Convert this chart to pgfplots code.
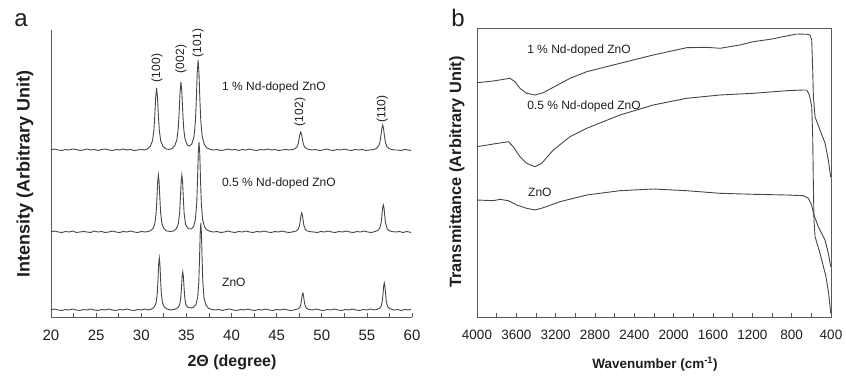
\documentclass[border=0pt]{standalone}
\usepackage{pgfplots}
\pgfplotsset{compat=1.18}
\usepackage{fontspec}
\setmainfont{Liberation Sans}
\definecolor{curve}{RGB}{70,70,70}
\definecolor{frame}{RGB}{90,90,90}
\definecolor{txt}{RGB}{30,30,30}
\newcommand{\fs}[1]{\fontsize{#1bp}{#1bp}\selectfont}

\begin{document}
\begin{tikzpicture}
\path[use as bounding box] (0bp,0bp) rectangle (846bp,378bp);

% ---------------- (a) XRD patterns ----------------
\begin{axis}[
  at={(51bp,61bp)}, anchor=south west, scale only axis,
  width=361bp, height=287bp,
  xmin=20, xmax=60, ymin=0, ymax=287,
  axis x line=bottom, axis y line=left,
  axis line style={-, draw=frame, line width=0.8bp},
  every outer x axis line/.append style={-},
  every outer y axis line/.append style={-},
  xtick={20,25,...,60}, minor xtick={22.5,27.5,...,57.5},
  ytick=\empty,
  tick align=inside, major tick length=3.5bp, minor tick length=3.5bp,
  tick style={draw=frame, line width=0.7bp},
  xticklabel style={font=\fs{15}, text=txt, yshift=-10bp},
  /pgf/number format/assume math mode=true,
  clip=false,
]
% 1 % Nd-doped ZnO
\addplot[curve, line width=0.9bp] coordinates {
(20.0,167) (20.4,168) (20.8,167) (21.2,166.5) (21.6,167.5) (22.0,167) (22.4,168) (22.8,167.5)
(23.2,166.5) (23.6,167) (24.0,168) (24.4,167) (24.8,167.5) (25.2,166.5) (25.6,167.5) (26.0,168)
(26.4,167) (26.8,166.5) (27.2,167.5) (27.6,167) (28.0,168) (28.4,167) (28.8,167.5) (29.2,166.5)
(29.6,167) (30.0,167.5) (30.35,167)
(30.7,168.2) (31.0,170.7) (31.25,176.3) (31.4,186.8) (31.5,201.1) (31.6,219.7) (31.7,229)
(31.8,219.7) (31.9,201.1) (32.0,186.8) (32.15,176.3) (32.4,170.7) (32.7,168.2) (33.05,167.5)
(33.4,168.4) (33.7,171.1) (33.95,177.2) (34.1,188.8) (34.2,204.4) (34.3,224.8) (34.4,235)
(34.5,224.8) (34.6,204.4) (34.7,188.8) (34.85,177.8) (35.1,172) (35.35,171) (35.6,173)
(35.85,180.5) (36.0,195.8) (36.1,216.5) (36.2,243.5) (36.3,257) (36.4,243.5) (36.5,216.5)
(36.6,195.8) (36.75,180.5) (37.0,172.4) (37.3,168.8) (37.7,167.5)
(38.0,167) (38.4,167.5) (38.8,166.5) (39.2,167) (39.6,168) (40.0,167) (40.4,167.5) (40.8,166.5)
(41.2,167.5) (41.6,167) (42.0,168) (42.4,167) (42.8,166.5) (43.2,167.5) (43.6,167) (44.0,168)
(44.4,167) (44.8,167.5) (45.2,166.5) (45.6,167) (46.0,167.5) (46.4,167)
(46.7,167.4) (47.0,168.1) (47.22,169.7) (47.37,172.8) (47.47,176.9) (47.57,182.3) (47.67,185)
(47.77,182.3) (47.87,176.9) (47.97,172.8) (48.12,169.7) (48.37,168.1) (48.67,167.4) (48.95,167)
(49.3,167.5) (49.7,166.5) (50.1,167) (50.5,168) (50.9,167) (51.3,166.5) (51.7,167.5) (52.1,167)
(52.5,168) (52.9,167) (53.3,166.5) (53.7,167.5) (54.1,167) (54.5,167.5) (54.9,166.5) (55.3,167)
(55.75,167.5) (56.05,168.5) (56.3,170.8) (56.45,175) (56.55,180.8) (56.65,188.3) (56.75,192)
(56.85,188.3) (56.95,180.8) (57.05,175) (57.2,170.8) (57.45,168.5) (57.75,167.5)
(58.1,167) (58.4,167) (58.8,166.5) (59.2,167.5) (59.6,167) (59.9,166.5)
};
% 0.5 % Nd-doped ZnO
\addplot[curve, line width=0.9bp] coordinates {
(20.0,85) (20.4,86) (20.8,85) (21.2,84.5) (21.6,85.5) (22.0,85) (22.4,86) (22.8,84.5)
(23.2,85) (23.6,85.5) (24.0,85) (24.4,84.5) (24.8,86) (25.2,85) (25.6,85.5) (26.0,84.5)
(26.4,85) (26.8,86) (27.2,85) (27.6,84.5) (28.0,85.5) (28.4,85) (28.8,86) (29.2,85)
(29.6,84.5) (30.0,85.5) (30.5,85)
(31.0,86.1) (31.3,88.4) (31.5,93) (31.65,103.8) (31.74,119.2) (31.82,135.2) (31.9,142)
(31.98,135.2) (32.06,119.2) (32.15,103.8) (32.3,93) (32.5,88.4) (32.8,86.1) (33.2,85.5)
(33.6,86.1) (33.9,88.4) (34.1,93) (34.25,103.8) (34.34,119.2) (34.42,135.2) (34.5,142)
(34.58,135.2) (34.66,119.2) (34.75,103.8) (34.9,93) (35.1,89.5) (35.35,88) (35.55,88)
(35.8,90.4) (36.0,97.6) (36.15,114.7) (36.24,139) (36.32,164.2) (36.4,175) (36.48,164.2)
(36.56,139) (36.65,114.7) (36.8,97.6) (37.0,90.4) (37.3,86.8) (37.7,85.5)
(38.0,85) (38.4,85.5) (38.8,84.5) (39.2,85) (39.6,86) (40.0,85) (40.4,84.5) (40.8,85.5)
(41.2,85) (41.6,86) (42.0,85) (42.4,84.5) (42.8,85.5) (43.2,85) (43.6,86) (44.0,85)
(44.4,84.5) (44.8,85.5) (45.2,85) (45.6,86) (46.0,85) (46.4,84.5)
(46.9,85.4) (47.18,86.1) (47.38,87.7) (47.53,91.3) (47.62,96.4) (47.7,101.7) (47.78,104)
(47.86,101.7) (47.94,96.4) (48.03,91.3) (48.18,87.7) (48.38,86.1) (48.68,85.4)
(49.1,85) (49.5,84.5) (49.9,85.5) (50.3,85) (50.7,86) (51.1,85) (51.5,84.5) (51.9,85.5)
(52.3,85) (52.7,86) (53.1,85) (53.5,84.5) (53.9,85.5) (54.3,85) (54.7,86) (55.1,85) (55.5,84.5)
(55.9,85.5) (56.22,86.6) (56.42,88.8) (56.57,93.9) (56.66,101.2) (56.74,108.8) (56.82,112)
(56.9,108.8) (56.98,101.2) (57.07,93.9) (57.22,88.8) (57.42,86.6) (57.72,85.5)
(58.2,85) (58.6,85.5) (59.0,84.5) (59.4,85.5) (59.9,84.5)
};
% undoped ZnO
\addplot[curve, line width=0.9bp] coordinates {
(20.0,7) (20.4,8) (20.8,7) (21.2,6.5) (21.6,7.5) (22.0,7) (22.4,8) (22.8,7)
(23.2,6.5) (23.6,7.5) (24.0,7) (24.4,8) (24.8,7) (25.2,6.5) (25.6,7.5) (26.0,7)
(26.4,8) (26.8,7) (27.2,6.5) (27.6,7.5) (28.0,7) (28.4,8) (28.8,7) (29.2,6.5)
(29.6,7.5) (30.0,7) (30.4,8) (30.8,7)
(31.15,8) (31.45,10.1) (31.65,14.3) (31.78,24.2) (31.86,38.2) (31.93,52.8) (32.0,59)
(32.07,52.8) (32.14,38.2) (32.22,24.2) (32.35,14.3) (32.55,10.1) (32.85,8) (33.3,7)
(33.75,7.8) (34.05,9.3) (34.25,12.3) (34.38,19.5) (34.46,29.8) (34.53,40.4) (34.6,45)
(34.67,40.4) (34.74,29.8) (34.82,19.5) (34.95,12.3) (35.15,9.8) (35.45,9) (35.75,9.5)
(36.05,12.2) (36.25,19.2) (36.38,35.7) (36.46,59.2) (36.53,83.6) (36.6,94) (36.67,83.6)
(36.74,59.2) (36.82,35.7) (36.95,19.2) (37.15,12.2) (37.45,8.7) (37.8,7.5)
(38.2,7) (38.6,7.5) (39.0,6.5) (39.4,7.5) (39.8,8) (40.2,7) (40.6,6.5) (41.0,7.5)
(41.4,7) (41.8,8) (42.2,7) (42.6,6.5) (43.0,7.5) (43.4,7) (43.8,8) (44.2,7)
(44.6,6.5) (45.0,7.5) (45.4,7) (45.8,8) (46.2,7) (46.6,6.5)
(47.05,7.3) (47.35,8) (47.55,9.4) (47.68,12.6) (47.76,17.2) (47.83,22) (47.9,24)
(47.97,22) (48.04,17.2) (48.12,12.6) (48.25,9.4) (48.45,8) (48.75,7.3)
(49.0,7) (49.4,8) (49.8,7) (50.2,6.5) (50.6,7.5) (51.0,7) (51.4,8) (51.8,7)
(52.2,6.5) (52.6,7.5) (53.0,7) (53.4,8) (53.8,7) (54.2,6.5) (54.6,7.5) (55.0,7)
(55.4,8) (55.8,7)
(56.08,7.5) (56.38,8.6) (56.58,10.8) (56.71,15.9) (56.79,23.2) (56.86,30.8) (56.93,34)
(57.0,30.8) (57.07,23.2) (57.15,15.9) (57.28,10.8) (57.48,8.6) (57.78,7.5)
(58.0,7) (58.4,7.5) (58.8,6.5) (59.2,7.5) (59.6,7) (59.9,7.5)
};
\begin{scope}[every node/.style={font=\fs{12}, text=txt, inner sep=0pt}]
\node[anchor=west] at (axis cs:38.95,230) {1 \% Nd-doped ZnO};
\node[anchor=west] at (axis cs:38.95,134) {0.5 \% Nd-doped ZnO};
\node[anchor=west] at (axis cs:38.95,35) {ZnO};
\node[rotate=90] at (axis cs:31.75,249) {(100)};
\node[rotate=90] at (axis cs:34.4,258) {(002)};
\node[rotate=90] at (axis cs:36.29,274) {(101)};
\node[rotate=90] at (axis cs:47.6,205) {(102)};
\node[rotate=90] at (axis cs:56.7,208) {(110)};
\end{scope}
\end{axis}

% ---------------- (b) FTIR spectra ----------------
\begin{axis}[
  at={(477bp,61bp)}, anchor=south west, scale only axis,
  width=354bp, height=289bp,
  xmin=400, xmax=4000, x dir=reverse, ymin=0, ymax=289,
  axis line style={draw=frame, line width=0.8bp},
  xtick={400,800,...,4000}, minor xtick={600,1000,...,3800},
  xtick pos=bottom, ytick=\empty,
  tick align=inside, major tick length=3.5bp, minor tick length=3.5bp,
  tick style={draw=frame, line width=0.7bp},
  scaled x ticks=false,
  xticklabel style={font=\fs{13.5}, text=txt, yshift=-10bp,
    /pgf/number format/set thousands separator={}},
  /pgf/number format/assume math mode=true,
  clip=false,
]
% 1 % Nd-doped ZnO
\addplot[curve, line width=0.9bp] coordinates {
(4000,234.3) (3834,236) (3664,238.7) (3614,235.3) (3563,228.7) (3495,223.7) (3410,222)
(3326,224.3) (3224,229.7) (3054,238.7) (2884,245.3) (2546,253.7) (2207,262) (1867,269.3)
(1664,269.7) (1529,268.7) (1325,272) (1190,275.3) (1020,277.7) (850,281) (749,283)
(647,282.7) (613,282) (596,277) (586,247) (579,220) (562,200) (512,187) (461,174)
(427,157) (403,140)
};
% 0.5 % Nd-doped ZnO
\addplot[curve, line width=0.9bp] coordinates {
(4000,170.3) (3834,173) (3681,175.3) (3631,170.3) (3563,160.3) (3495,153.7) (3410,150.3)
(3342,153.7) (3224,167) (3054,180.3) (2884,188.7) (2546,202) (2207,212) (1867,218.7)
(1529,222) (1190,223.7) (850,226.3) (681,227) (647,227) (620,222) (596,210.3) (586,180.3)
(579,130.3) (573,97) (562,80.3) (512,63.7) (451,40.3) (424,23.7) (403,3.7)
};
% undoped ZnO
\addplot[curve, line width=0.9bp] coordinates {
(4000,117) (3834,116.3) (3766,117.7) (3681,116.3) (3596,112) (3495,108.7) (3410,107)
(3326,109.3) (3156,115.3) (2884,122) (2546,126.3) (2207,128) (1867,126.3) (1529,123.7)
(1190,122.7) (850,122) (681,121.3) (630,118.7) (596,112) (579,103.7) (529,90.3) (461,77)
(427,63.7) (403,50.3)
};
\begin{scope}[every node/.style={font=\fs{12}, text=txt, inner sep=0pt}]
\node[anchor=west] at (axis cs:3491,267) {1 \% Nd-doped ZnO};
\node[anchor=west] at (axis cs:3491,211) {0.5 \% Nd-doped ZnO};
\node[anchor=west] at (axis cs:3481,125) {ZnO};
\end{scope}
\end{axis}

% panel letters and axis titles
\node[font=\fs{24}, text=txt] at (21bp,358bp) {a};
\node[font=\fs{24}, text=txt] at (458bp,360bp) {b};
\node[font=\fs{16}\bfseries, text=txt] at (232bp,16bp) {2Θ (degree)};
\node[font=\fs{18}\bfseries, text=txt, rotate=90] at (25bp,204bp) {Intensity (Arbitrary Unit)};
\node[font=\fs{13.5}\bfseries, text=txt] at (655bp,14bp) {Wavenumber (cm\textsuperscript{-1})};
\node[font=\fs{16.3}\bfseries, text=txt, rotate=90] at (457bp,206bp) {Transmittance (Arbitrary Unit)};
\end{tikzpicture}
\end{document}
